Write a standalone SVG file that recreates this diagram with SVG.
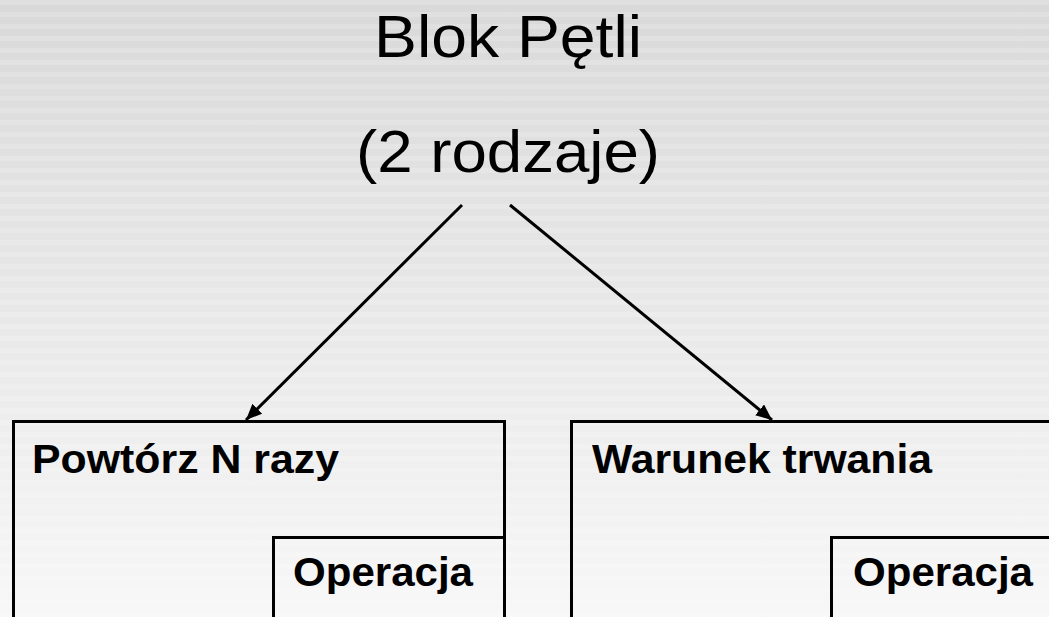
<svg xmlns="http://www.w3.org/2000/svg" width="1049" height="617" viewBox="0 0 1049 617">
  <defs>
    <linearGradient id="bg" x1="0" y1="0" x2="0" y2="1">
      <stop offset="0" stop-color="#d9d9d9"/>
      <stop offset="1" stop-color="#f7f7f7"/>
    </linearGradient>
    <pattern id="stripes" width="1049" height="12" patternUnits="userSpaceOnUse">
      <rect x="0" y="0" width="1049" height="5" fill="#ffffff" opacity="0.16"/>
    </pattern>
    <marker id="arrow" markerUnits="userSpaceOnUse" markerWidth="18" markerHeight="14" refX="16" refY="7" orient="auto">
      <path d="M0,0 L16,7 L0,14 Z" fill="#000"/>
    </marker>
    <style>
      .title { font-family: "Liberation Sans", Arial, sans-serif; font-size: 59px; fill: #000; }
      .label { font-family: "Liberation Sans", Arial, sans-serif; font-size: 40px; font-weight: bold; fill: #000; }
      .box { fill: none; stroke: #000; stroke-width: 3; }
      .edge { fill: none; stroke: #000; stroke-width: 3; marker-end: url(#arrow); }
    </style>
  </defs>

  <!-- backdrop -->
  <rect x="0" y="0" width="1049" height="617" fill="url(#bg)"/>
  <rect x="0" y="0" width="1049" height="617" fill="url(#stripes)"/>

  <g id="root">
    <text class="title" x="508" y="57" text-anchor="middle" textLength="268" lengthAdjust="spacingAndGlyphs">Blok Pętli</text>
    <text class="title" x="508" y="172" text-anchor="middle" textLength="304" lengthAdjust="spacingAndGlyphs">(2 rodzaje)</text>
  </g>

  <g id="connectors">
    <line class="edge" x1="462" y1="205" x2="246" y2="420"/>
    <line class="edge" x1="510" y1="205" x2="772" y2="420"/>
  </g>

  <g id="repeat-n">
    <rect class="box" x="13.5" y="421.5" width="491" height="240"/>
    <text class="label" x="32" y="473" textLength="307" lengthAdjust="spacingAndGlyphs">Powtórz N razy</text>
  </g>

  <g id="repeat-n-operation">
    <rect class="box" x="273.5" y="537.5" width="231" height="120"/>
    <text class="label" x="293" y="586" textLength="180" lengthAdjust="spacingAndGlyphs">Operacja</text>
  </g>

  <g id="while-condition">
    <rect class="box" x="571.5" y="421.5" width="520" height="240"/>
    <text class="label" x="592" y="473" textLength="340" lengthAdjust="spacingAndGlyphs">Warunek trwania</text>
  </g>

  <g id="while-condition-operation">
    <rect class="box" x="831.5" y="537.5" width="260" height="120"/>
    <text class="label" x="853" y="586" textLength="180" lengthAdjust="spacingAndGlyphs">Operacja</text>
  </g>
</svg>
